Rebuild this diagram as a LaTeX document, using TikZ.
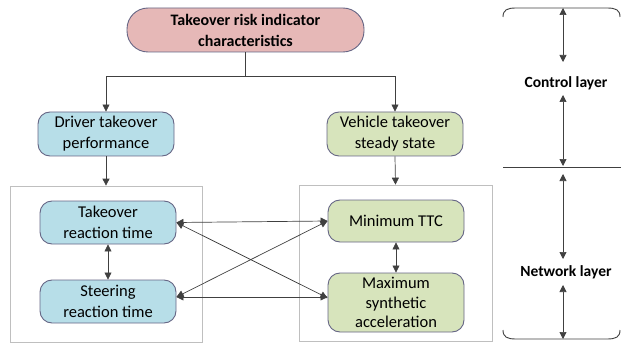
\documentclass[tikz,border=0pt]{standalone}
\usepackage{fontspec}
\setmainfont{Carlito}
\usetikzlibrary{arrows.meta}
\begin{document}
\begin{tikzpicture}[x=1pt,y=-1pt,
  tip/.style={-{Triangle[width=7pt,length=7pt]}},
  btip/.style={{Triangle[width=7pt,length=7pt]}-{Triangle[width=7pt,length=7pt]}},
  conn/.style={draw=black!75, line width=0.7pt},
  nodebox/.style={draw=black!80!blue!60, line width=0.9pt, rounded corners=12pt, minimum width=136pt, align=center, font=\fontsize{16.5}{21}\selectfont, inner sep=1pt},
  blue/.style={nodebox, fill={rgb,255:red,183;green,222;blue,232}},
  green/.style={nodebox, fill={rgb,255:red,215;green,228;blue,188}},
  frame/.style={draw=black!25, line width=0.7pt, inner sep=0pt},
  layer/.style={font=\bfseries\fontsize{15.5}{18}\selectfont}
]
\useasboundingbox (0,0) rectangle (621,350);
% top
\node[nodebox, fill={rgb,255:red,230;green,184;blue,183}, rounded corners=21pt, minimum width=237pt, minimum height=44pt, font=\bfseries\fontsize{16}{21}\selectfont] (top) at (245.5,30) {Takeover risk indicator\\characteristics};
\node[blue, minimum height=44pt] (driver) at (106,134) {Driver takeover\\performance};
\node[green, minimum height=44pt] (vehicle) at (395,134) {Vehicle takeover\\steady state};
% frames
\node[frame, minimum width=192pt, minimum height=156pt] (lbox) at (106,264) {};
\node[frame, minimum width=193pt, minimum height=156pt] (rbox) at (395.5,263) {};
% inner nodes
\node[blue, minimum height=43pt] (tr) at (108,222.5) {Takeover\\reaction time};
\node[blue, minimum height=43pt] (sr) at (108,301.5) {Steering\\reaction time};
\node[green, minimum height=42pt] (ttc) at (396,221) {Minimum TTC};
\node[green, minimum height=59pt, font=\fontsize{16.5}{19.5}\selectfont] (msa) at (396,302.5) {Maximum\\synthetic\\acceleration};
% top connectors
\coordinate (j) at (245.5,76);
\draw[conn] (top.south) -- (j);
\draw[conn, tip] (j) -| (driver.north);
\draw[conn, tip] (j) -| (vehicle.north);
\draw[conn, tip] (driver.south) -- (lbox.north);
\draw[conn, tip] (vehicle.south) -- (rbox.north);
% inner connectors
\draw[conn, btip] (tr.south) -- (sr.north);
\draw[conn, btip] (ttc.south) -- (msa.north);
\draw[conn, btip] (tr.east) -- (ttc.west);
\draw[conn, btip] (sr.east |- 0,297) -- (msa.west |- 0,297);
\draw[conn, btip] (tr.east) -- (msa.west |- 0,298);
\draw[conn, btip] (sr.east |- 0,297) -- (ttc.west);
% right side layers
\draw[conn, line width=0.9pt] (503,17) .. controls (503,10) and (507,8) .. (516,8) -- (607,8) .. controls (616,8) and (620,10) .. (620,17);
\draw[conn, line width=0.9pt] (503,330) .. controls (503,337) and (507,339) .. (516,339) -- (607,339) .. controls (616,339) and (620,337) .. (620,330);
\draw[conn, line width=0.9pt] (503,167) -- (621,167);
\node[layer] (cl) at (566,83) {Control layer};
\node[layer] (nl) at (566,272) {Network layer};
\coordinate (a1) at (563,8);
\coordinate (a2) at (563,62);
\coordinate (a3) at (563,95);
\coordinate (a4) at (563,166);
\coordinate (a5) at (563,174);
\coordinate (a6) at (563,259);
\coordinate (a7) at (563,285);
\coordinate (a8) at (563,339);
\draw[conn, btip] (a1) -- (a2);
\draw[conn, btip] (a3) -- (a4);
\draw[conn, btip] (a5) -- (a6);
\draw[conn, btip] (a7) -- (a8);
\end{tikzpicture}
\end{document}
